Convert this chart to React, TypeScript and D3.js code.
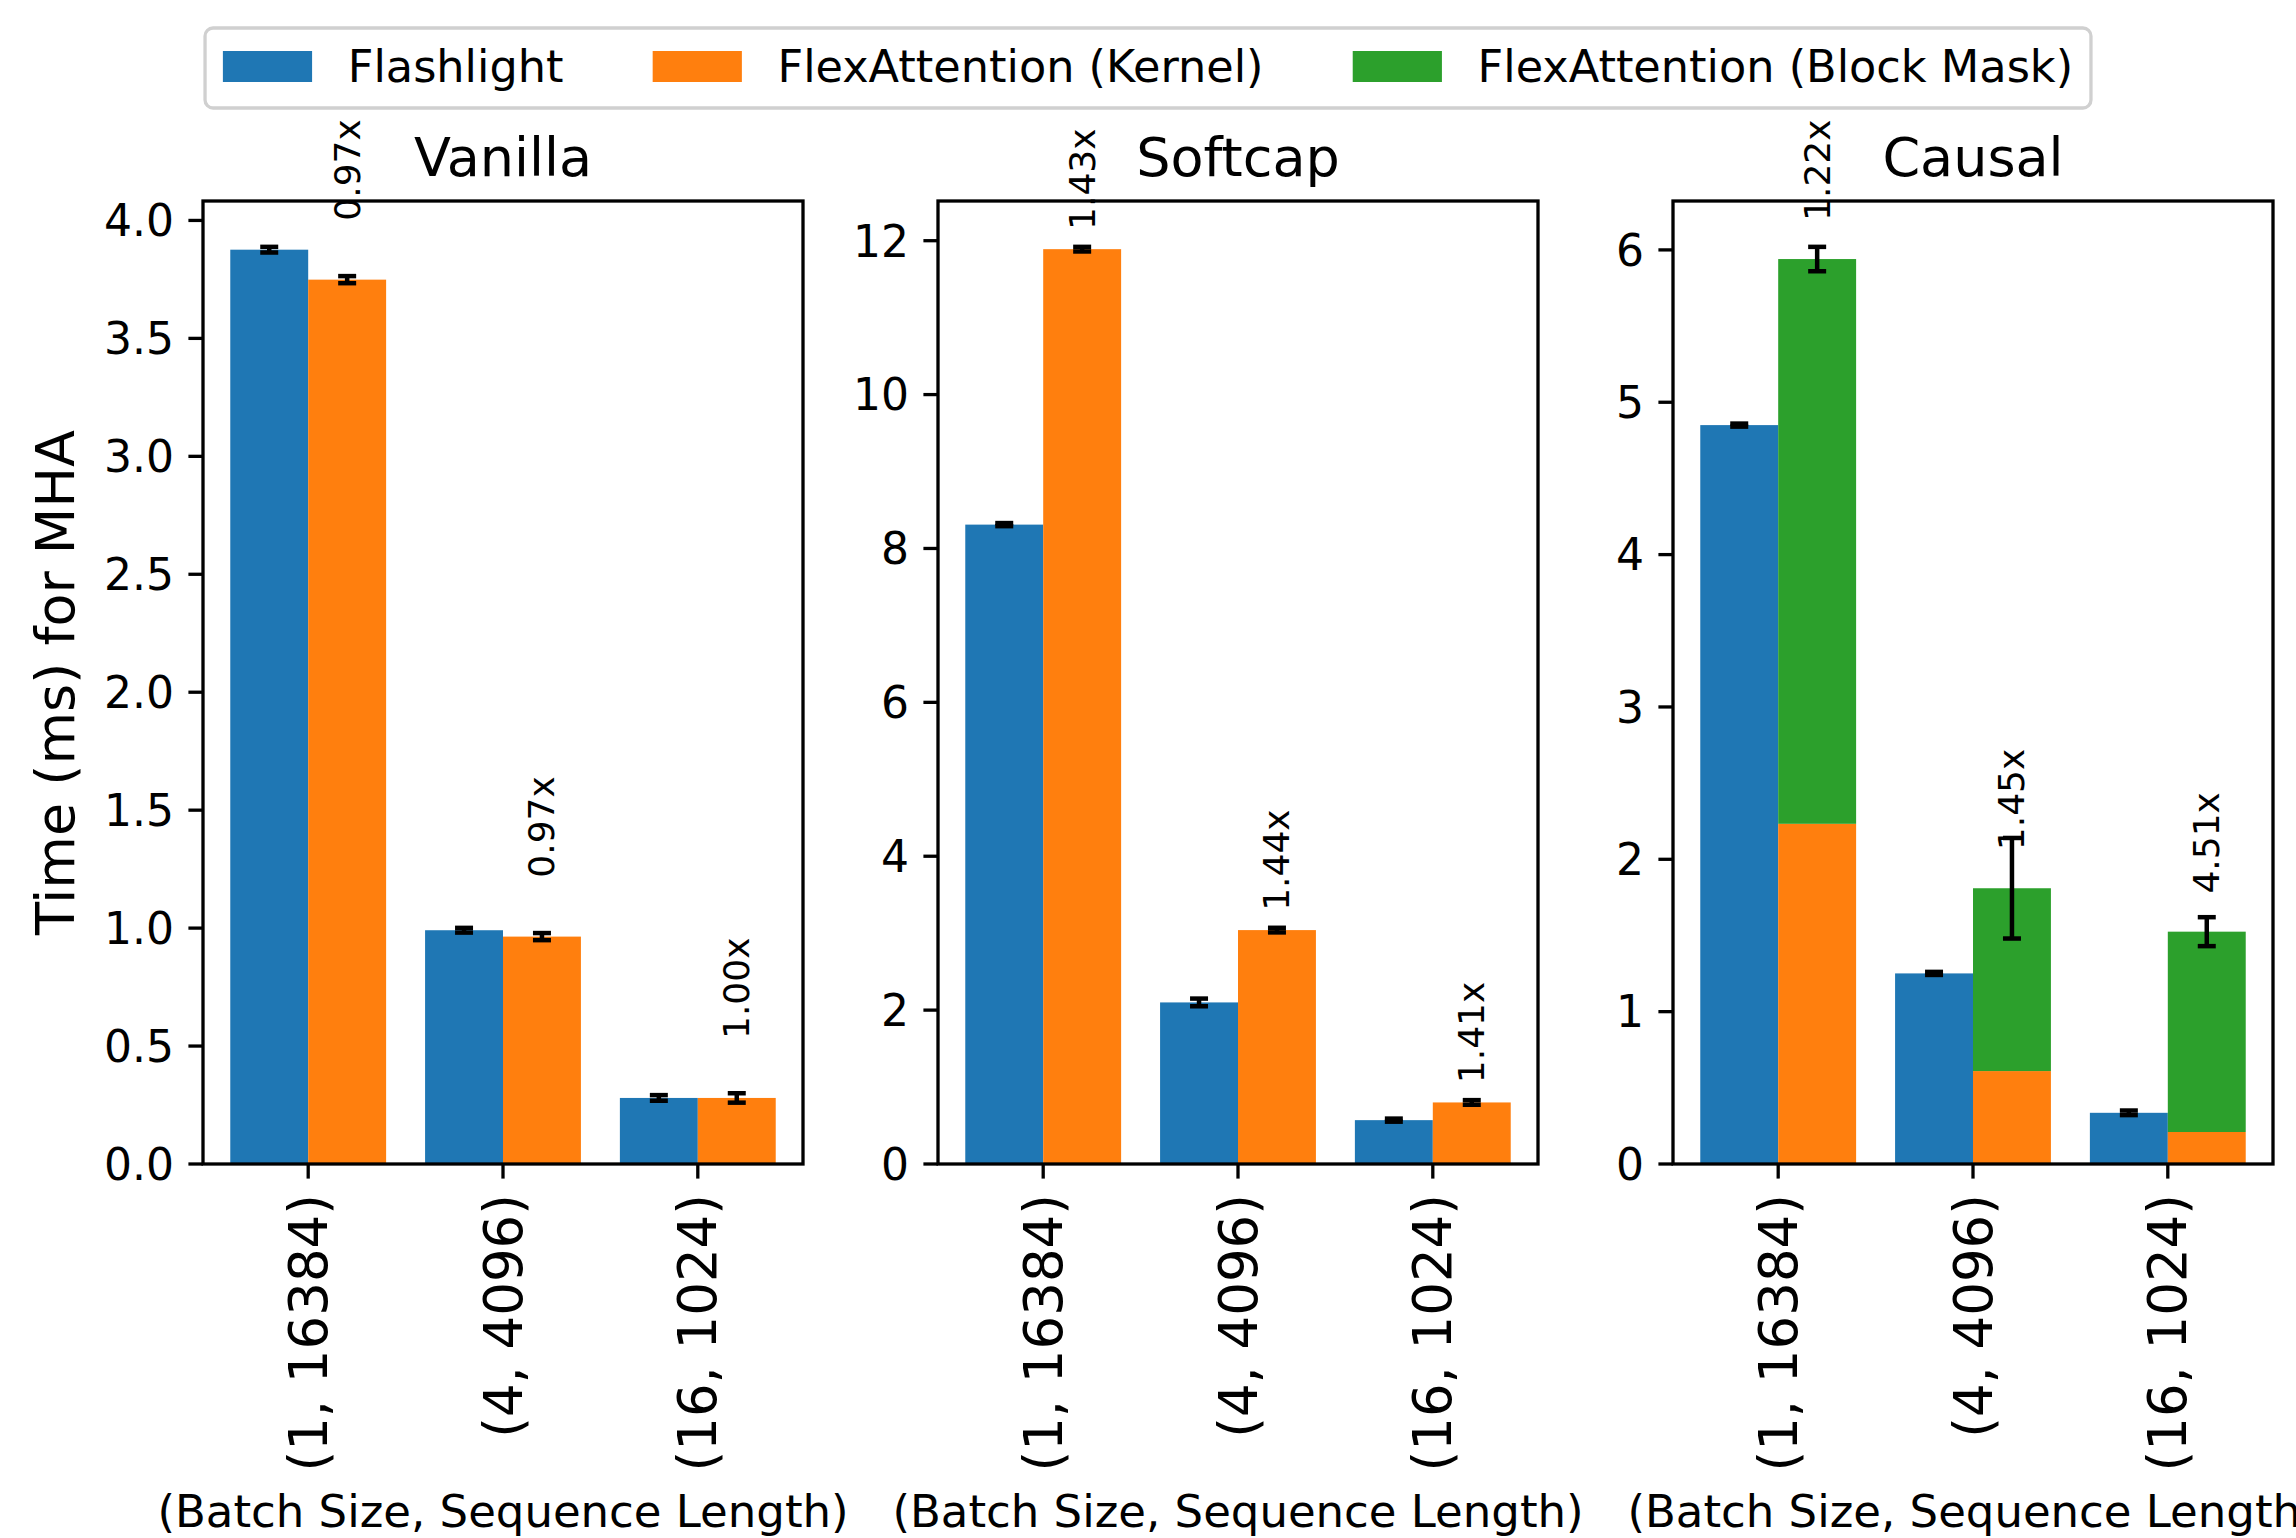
import React, { useEffect, useRef } from 'react';
import * as d3 from 'd3';

// x categories and panel names
const categories = ['(1, 16384)', '(4, 4096)', '(16, 1024)'];
const panelTitles = ['Vanilla', 'Softcap', 'Causal'];
const seriesNames = ['Flashlight', 'FlexAttention (Kernel)', 'FlexAttention (Block Mask)'];
const seriesColors = ['#1f77b4', '#ff7f0e', '#2ca02c'];

// Vanilla
const vanillaFlashlight = [3.876, 0.991, 0.28];
const vanillaFlashlightErr = [0.012, 0.01, 0.012];
const vanillaKernel = [3.749, 0.964, 0.28];
const vanillaKernelErr = [0.015, 0.015, 0.02];
const vanillaSpeedup = ['0.97x', '0.97x', '1.00x'];

// Softcap
const softcapFlashlight = [8.31, 2.1, 0.57];
const softcapFlashlightErr = [0.02, 0.05, 0.02];
const softcapKernel = [11.89, 3.04, 0.8];
const softcapKernelErr = [0.03, 0.03, 0.03];
const softcapSpeedup = ['1.43x', '1.44x', '1.41x'];

// Causal (kernel + block mask stacked)
const causalFlashlight = [4.85, 1.251, 0.336];
const causalFlashlightErr = [0.01, 0.01, 0.015];
const causalKernel = [2.233, 0.61, 0.21];
const causalBlockMask = [3.707, 1.2, 1.315];
const causalTotalErr = [0.08, 0.33, 0.095];
const causalSpeedup = ['1.22x', '1.45x', '4.51x'];

const tickCounts = [10, 7, 7];

const FONT = '"DejaVu Sans", sans-serif';

const App = () => {
  const ref = useRef<SVGSVGElement>(null);

  useEffect(() => {
    document.body.style.margin = '0';
    const svg = d3.select(ref.current);
    svg.selectAll('*').remove();

    const W = 2296;
    const top = 201;
    const bottom = 1164;
    const panelW = 600;
    const lefts = [203, 938, 1673];

    const panels = [
      {
        base: vanillaFlashlight, baseErr: vanillaFlashlightErr,
        stack: [vanillaKernel], stackErr: vanillaKernelErr, labels: vanillaSpeedup,
      },
      {
        base: softcapFlashlight, baseErr: softcapFlashlightErr,
        stack: [softcapKernel], stackErr: softcapKernelErr, labels: softcapSpeedup,
      },
      {
        base: causalFlashlight, baseErr: causalFlashlightErr,
        stack: [causalKernel, causalBlockMask], stackErr: causalTotalErr, labels: causalSpeedup,
      },
    ];

    panels.forEach((p, pi) => {
      const left = lefts[pi];
      const totals = categories.map((_, i) => d3.sum(p.stack, s => s[i]));
      const maxVal = d3.max(categories.map((_, i) =>
        Math.max(p.base[i] + p.baseErr[i], totals[i] + p.stackErr[i])
      )) as number;

      const x = d3.scaleLinear().domain([-0.54, 2.54]).range([left, left + panelW]);
      const y = d3.scaleLinear().domain([0, maxVal * 1.05]).range([bottom, top]);
      const g = svg.append('g');

      // base bars
      g.selectAll('.base')
        .data(p.base)
        .enter().append('rect')
        .attr('x', (d, i) => x(i - 0.4))
        .attr('width', x(0.4) - x(0))
        .attr('y', d => y(d))
        .attr('height', d => bottom - y(d))
        .attr('fill', seriesColors[0]);

      // stacked bars
      let cum = categories.map(() => 0);
      p.stack.forEach((s, si) => {
        const prev = cum.slice();
        g.selectAll('.stack' + si)
          .data(s)
          .enter().append('rect')
          .attr('x', (d, i) => x(i))
          .attr('width', x(0.4) - x(0))
          .attr('y', (d, i) => y(prev[i] + d))
          .attr('height', (d, i) => y(prev[i]) - y(prev[i] + d))
          .attr('fill', seriesColors[si + 1]);
        cum = cum.map((c, i) => c + s[i]);
      });

      // error bars
      const errs = [
        ...p.base.map((v, i) => ({ cx: i - 0.2, v, e: p.baseErr[i] })),
        ...totals.map((v, i) => ({ cx: i + 0.2, v, e: p.stackErr[i] })),
      ];
      const eg = g.selectAll('.err').data(errs).enter().append('g')
        .attr('stroke', '#000').attr('stroke-width', 4.5);
      eg.append('line')
        .attr('x1', d => x(d.cx)).attr('x2', d => x(d.cx))
        .attr('y1', d => y(d.v - d.e)).attr('y2', d => y(d.v + d.e));
      [-1, 1].forEach(sg => {
        eg.append('line')
          .attr('x1', d => x(d.cx) - 9).attr('x2', d => x(d.cx) + 9)
          .attr('y1', d => y(d.v + sg * d.e)).attr('y2', d => y(d.v + sg * d.e));
      });

      // speedup labels
      g.selectAll('.lbl')
        .data(p.labels)
        .enter().append('text')
        .attr('transform', (d, i) => `translate(${x(i + 0.2)},${y(totals[i] + 0.25)}) rotate(-90)`)
        .attr('text-anchor', 'start')
        .attr('dominant-baseline', 'central')
        .style('font-family', FONT)
        .style('font-size', '36px')
        .text(d => d);

      // frame
      g.append('rect')
        .attr('x', left).attr('y', top)
        .attr('width', panelW).attr('height', bottom - top)
        .attr('fill', 'none').attr('stroke', '#000').attr('stroke-width', 3.3);

      // y axis
      const yTicks = y.ticks(tickCounts[pi]);
      const fmt = pi === 0 ? d3.format('.1f') : d3.format('d');
      const yt = g.selectAll('.yt').data(yTicks).enter().append('g');
      yt.append('line')
        .attr('x1', left - 14.6).attr('x2', left)
        .attr('y1', d => y(d)).attr('y2', d => y(d))
        .attr('stroke', '#000').attr('stroke-width', 3.3);
      yt.append('text')
        .attr('x', left - 29)
        .attr('y', d => y(d))
        .attr('dy', '0.36em')
        .attr('text-anchor', 'end')
        .style('font-family', FONT)
        .style('font-size', '44px')
        .text(d => fmt(d));

      // x axis
      const xt = g.selectAll('.xt').data(categories).enter().append('g');
      xt.append('line')
        .attr('x1', (d, i) => x(i)).attr('x2', (d, i) => x(i))
        .attr('y1', bottom).attr('y2', bottom + 14.6)
        .attr('stroke', '#000').attr('stroke-width', 3.3);
      xt.append('text')
        .attr('transform', (d, i) => `translate(${x(i)},${bottom + 30}) rotate(-90)`)
        .attr('text-anchor', 'end')
        .attr('dominant-baseline', 'central')
        .style('font-family', FONT)
        .style('font-size', '53px')
        .text(d => d);

      g.append('text')
        .attr('x', left + panelW / 2).attr('y', 1527)
        .attr('text-anchor', 'middle')
        .style('font-family', FONT)
        .style('font-size', '45px')
        .text('(Batch Size, Sequence Length)');

      g.append('text')
        .attr('x', left + panelW / 2).attr('y', 176)
        .attr('text-anchor', 'middle')
        .style('font-family', FONT)
        .style('font-size', '54px')
        .text(panelTitles[pi]);
    });

    // y label
    svg.append('text')
      .attr('transform', `translate(74,${(top + bottom) / 2}) rotate(-90)`)
      .attr('text-anchor', 'middle')
      .style('font-family', FONT)
      .style('font-size', '54px')
      .text('Time (ms) for MHA');

    // legend
    const fs = 44.6;
    const lg = svg.append('g');
    const box = lg.append('rect');
    let cx = 0;
    const items = seriesNames.map((name, i) => {
      const it = lg.append('g');
      it.append('rect')
        .attr('x', cx).attr('y', 51).attr('width', 2 * fs).attr('height', 31)
        .attr('fill', seriesColors[i]);
      const t = it.append('text')
        .attr('x', cx + 2.8 * fs).attr('y', 82)
        .style('font-family', FONT)
        .style('font-size', fs + 'px')
        .text(name);
      const w = (t.node() as SVGTextElement).getComputedTextLength();
      cx += 2.8 * fs + w + 2 * fs;
      return it;
    });
    const contentW = cx - 2 * fs;
    const boxW = contentW + 2 * 0.4 * fs;
    const boxX = W / 2 - boxW / 2;
    items.forEach(it => it.attr('transform', `translate(${boxX + 0.4 * fs},0)`));
    box.attr('x', boxX).attr('y', 28).attr('width', boxW).attr('height', 80)
      .attr('rx', 8).attr('fill', '#fff').attr('fill-opacity', 0.8)
      .attr('stroke', '#d0d0d0').attr('stroke-width', 3.3);
  }, []);

  return (
    <svg ref={ref} width={2296} height={1538} style={{ display: 'block', background: '#fff' }} />
  );
};

export default App;
